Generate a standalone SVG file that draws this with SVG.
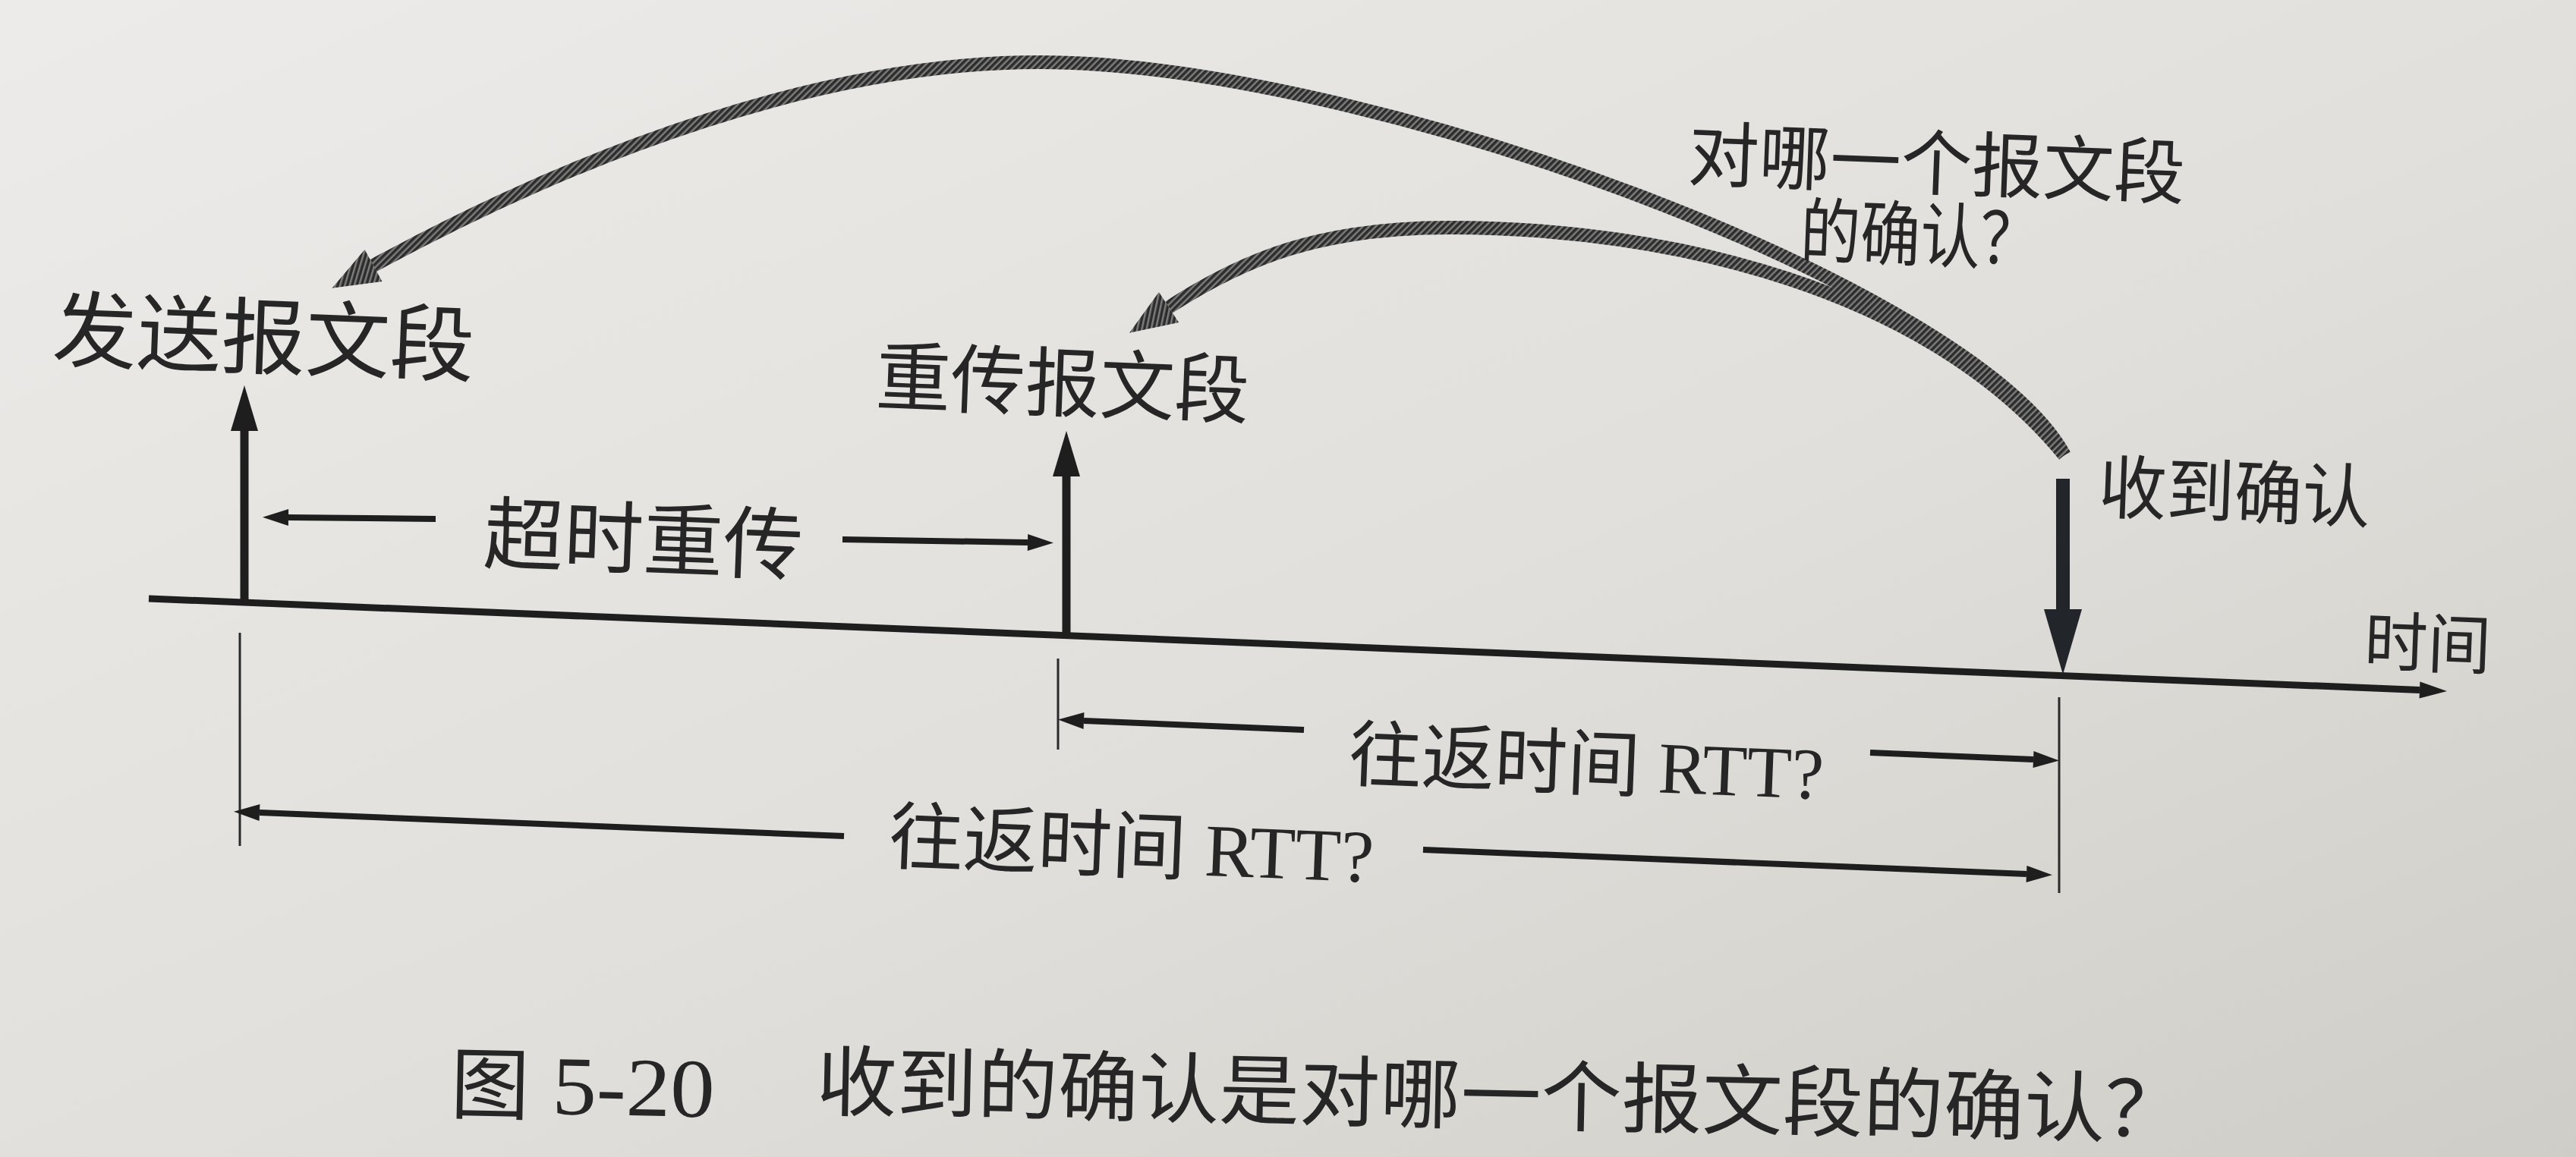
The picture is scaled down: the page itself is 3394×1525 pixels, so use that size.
<svg xmlns="http://www.w3.org/2000/svg" width="3394" height="1525" viewBox="0 0 3394 1525">
  <defs>
    <linearGradient id="paper" x1="0" y1="0" x2="1" y2="1">
      <stop offset="0" stop-color="#ecebe9"/>
      <stop offset="0.55" stop-color="#e0dfdb"/>
      <stop offset="1" stop-color="#cfcdc7"/>
    </linearGradient>
    <pattern id="hatch" width="6" height="6" patternUnits="userSpaceOnUse" patternTransform="rotate(45)">
      <rect width="6" height="6" fill="#7c7c7a"/>
      <rect width="3.5" height="6" fill="#2c2c2c"/>
    </pattern>
    <marker id="headTick" viewBox="0 -20 60 40" refX="0" refY="0" markerWidth="60" markerHeight="40" markerUnits="userSpaceOnUse" orient="auto" overflow="visible">
      <path d="M0,-18 L60,0 L0,18 z" fill="#1e1e1e"/>
    </marker>
    <marker id="headAck" viewBox="0 -26 86 52" refX="0" refY="0" markerWidth="86" markerHeight="52" markerUnits="userSpaceOnUse" orient="auto" overflow="visible">
      <path d="M0,-25 L86,0 L0,25 z" fill="#22252a"/>
    </marker>
    <marker id="headDim" viewBox="0 -12 34 24" refX="0" refY="0" markerWidth="34" markerHeight="24" markerUnits="userSpaceOnUse" orient="auto" overflow="visible">
      <path d="M0,-11 L34,0 L0,11 z" fill="#1e1e1e"/>
    </marker>
    <marker id="headAxis" viewBox="0 -12 36 24" refX="0" refY="0" markerWidth="36" markerHeight="24" markerUnits="userSpaceOnUse" orient="auto" overflow="visible">
      <path d="M0,-11 L36,0 L0,11 z" fill="#1e1e1e"/>
    </marker>
    <marker id="headCurve" viewBox="0 -26 62 52" refX="0" refY="0" markerWidth="62" markerHeight="52" markerUnits="userSpaceOnUse" orient="auto" overflow="visible">
      <path d="M0,-24 L62,0 L0,24 z" fill="url(#hatch)"/>
    </marker>
  </defs>
  <style>
    .cjk { font-family: "Noto Sans CJK SC", "Noto Sans", sans-serif; fill: #262626; }
    .ser { font-family: "Liberation Serif", "Noto Sans CJK SC", serif; fill: #262626; }
    .axis { stroke: #1e1e1e; stroke-width: 9; fill: none; }
    .tick { stroke: #1e1e1e; stroke-width: 11; fill: none; }
    .ack { stroke: #22252a; stroke-width: 18; fill: none; }
    .dim { stroke: #1e1e1e; stroke-width: 8; fill: none; }
    .thin { stroke: #2a2a2a; stroke-width: 3; fill: none; }
    .curve { stroke: url(#hatch); stroke-width: 18; fill: none; }
  </style>

  <rect width="3394" height="1525" fill="url(#paper)"/>

  <g id="connectors">
    <!-- time axis -->
    <path class="axis" d="M196,789 L3188,909.5" marker-end="url(#headAxis)"/>
    <!-- send / retransmit / ack arrows -->
    <path class="tick" d="M322,791 L322,568" marker-end="url(#headTick)"/>
    <path class="tick" d="M1405,836 L1405,628" marker-end="url(#headTick)"/>
    <path class="ack" d="M2718,631 L2718,803" marker-end="url(#headAck)"/>
    <!-- timeout dimension -->
    <path class="dim" d="M574,684 L380,682" marker-end="url(#headDim)"/>
    <path class="dim" d="M1110,711 L1354,715" marker-end="url(#headDim)"/>
    <!-- extension lines -->
    <path class="thin" d="M316,834 L316,1115"/>
    <path class="thin" d="M1394,868 L1394,988"/>
    <path class="thin" d="M2713,919 L2713,1177"/>
    <!-- RTT dimensions -->
    <path class="dim" d="M1718,962 L1428,950" marker-end="url(#headDim)"/>
    <path class="dim" d="M2464,992 L2679,1001" marker-end="url(#headDim)"/>
    <path class="dim" d="M1112,1102 L342,1071" marker-end="url(#headDim)"/>
    <path class="dim" d="M1875,1120 L2670,1152" marker-end="url(#headDim)"/>
    <!-- curved "which segment" arrows -->
    <path class="curve" d="M2720,600 C2600,380 1800,82 1369,82 C1000,82 617,282 492,350" marker-end="url(#headCurve)"/>
    <path class="curve" d="M2720,600 C2540,380 2200,300 1910,300 C1740,300 1640,340 1540,405" marker-end="url(#headCurve)"/>
  </g>

  <g id="send-segment">
    <text class="cjk" x="68" y="474" font-size="110" textLength="556" lengthAdjust="spacingAndGlyphs" transform="rotate(2.2 68 474)">发送报文段</text>
  </g>
  <g id="retransmit-segment">
    <text class="cjk" x="1153" y="532" font-size="100" textLength="492" lengthAdjust="spacingAndGlyphs" transform="rotate(2.2 1153 532)">重传报文段</text>
  </g>
  <g id="question">
    <text class="cjk" x="2223" y="237" font-size="94" textLength="655" lengthAdjust="spacingAndGlyphs" transform="rotate(2.2 2223 237)">对哪一个报文段</text>
    <text class="cjk" x="2371" y="338" font-size="94" textLength="316" lengthAdjust="spacingAndGlyphs" transform="rotate(2.2 2371 338)">的确认？</text>
  </g>
  <g id="ack-received">
    <text class="cjk" x="2764" y="675" font-size="92" textLength="358" lengthAdjust="spacingAndGlyphs" transform="rotate(2.2 2764 675)">收到确认</text>
  </g>
  <g id="time-label">
    <text class="cjk" x="3114" y="876" font-size="86" textLength="167" lengthAdjust="spacingAndGlyphs" transform="rotate(2.2 3114 876)">时间</text>
  </g>
  <g id="timeout-label">
    <text class="cjk" x="636" y="741" font-size="105" textLength="421" lengthAdjust="spacingAndGlyphs" transform="rotate(2.2 636 741)">超时重传</text>
  </g>
  <g id="rtt-upper">
    <text class="cjk" x="1776" y="1028" font-size="96" transform="rotate(2.3 1776 1028)">往返时间<tspan class="ser"> RTT?</tspan></text>
  </g>
  <g id="rtt-lower">
    <text class="cjk" x="1170" y="1137" font-size="98" transform="rotate(2.3 1170 1137)">往返时间<tspan class="ser"> RTT?</tspan></text>
  </g>
  <g id="caption">
    <text class="cjk" x="593" y="1466" font-size="104" transform="rotate(1.2 593 1466)">图</text>
    <text class="ser" x="727" y="1468" font-size="110" textLength="214" lengthAdjust="spacingAndGlyphs" transform="rotate(1.2 727 1468)">5-20</text>
    <text class="cjk" x="1075" y="1462" font-size="102" textLength="1804" lengthAdjust="spacingAndGlyphs" transform="rotate(1.2 1075 1462)">收到的确认是对哪一个报文段的确认？</text>
  </g>
</svg>
